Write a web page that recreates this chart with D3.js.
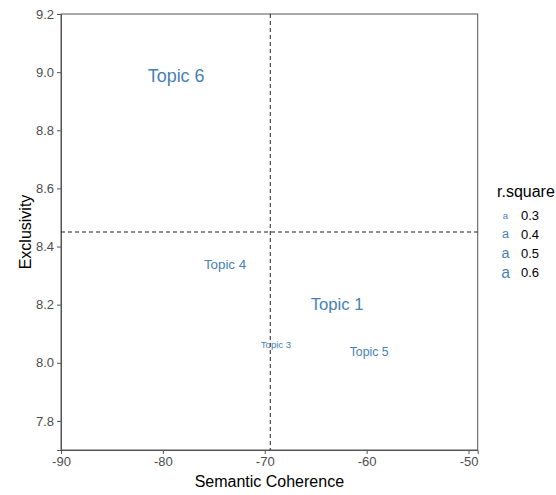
<!DOCTYPE html>
<html>
<head>
<meta charset="utf-8">
<script src="https://cdn.jsdelivr.net/npm/d3@7"></script>
<style>
  body { margin: 0; background: #fff; }
  text { font-family: "Liberation Sans", Arial, sans-serif; }
</style>
</head>
<body>
<script>
// Topic values
const topics = ["Topic 1", "Topic 3", "Topic 4", "Topic 5", "Topic 6"];
const semcoh = [-62.9, -68.9, -73.9, -59.75, -78.7];
const exclus = [8.202, 8.064, 8.339, 8.036, 8.987];
const rsquare = [0.557, 0.29, 0.365, 0.329, 0.66];

const xTicks = [-90, -80, -70, -60, -50];
const yTicks = [7.8, 8.0, 8.2, 8.4, 8.6, 8.8, 9.0, 9.2];
const legendBreaks = [0.3, 0.4, 0.5, 0.6];
const meanX = -69.46;
const meanY = 8.45;

const w = 556, h = 495;
const panel = { left: 61, right: 477.7, top: 14, bottom: 450 };
const textColor = "steelblue";

const svg = d3.select("body").append("svg")
  .attr("width", w)
  .attr("height", h);

const x = d3.scaleLinear()
  .domain([-90, -49.1])
  .range([panel.left, panel.right]);

const y = d3.scaleLinear()
  .domain([7.7, 9.2])
  .range([panel.bottom, panel.top]);

// size works like ggplot's area scale
const norm = d3.scaleLinear().domain(d3.extent(rsquare)).range([0, 1]);
const sizeRange = d3.scaleLinear().domain([0, 1]).range([9.6, 17.9]);
const fontSize = v => sizeRange(Math.sqrt(Math.max(0, norm(v))));

// panel border
svg.append("rect")
  .attr("x", panel.left)
  .attr("y", panel.top)
  .attr("width", panel.right - panel.left)
  .attr("height", panel.bottom - panel.top)
  .attr("fill", "none")
  .attr("stroke", "#555")
  .attr("stroke-width", 1);

// axes
const xAxis = d3.axisBottom(x).tickValues(xTicks).tickSize(4).tickPadding(3).tickFormat(d => String(d));
const yAxis = d3.axisLeft(y).tickValues(yTicks).tickSize(4).tickPadding(3).tickFormat(d => d.toFixed(1));

const gx = svg.append("g")
  .attr("transform", `translate(0,${panel.bottom})`)
  .call(xAxis);
const gy = svg.append("g")
  .attr("transform", `translate(${panel.left},0)`)
  .call(yAxis);

[gx, gy].forEach(g => {
  g.select(".domain").attr("stroke", "#555");
  g.selectAll(".tick line").attr("stroke", "#555");
  g.selectAll(".tick text")
    .attr("fill", "#4d4d4d")
    .style("font-size", "13px")
    .style("font-family", "Liberation Sans, Arial, sans-serif");
});

// reference lines
svg.append("line")
  .attr("x1", panel.left).attr("x2", panel.right)
  .attr("y1", y(meanY)).attr("y2", y(meanY))
  .attr("stroke", "#222")
  .attr("stroke-dasharray", "4,3");

svg.append("line")
  .attr("x1", x(meanX)).attr("x2", x(meanX))
  .attr("y1", panel.top).attr("y2", panel.bottom)
  .attr("stroke", "#222")
  .attr("stroke-dasharray", "4,3");

// topic labels
svg.selectAll(".topic")
  .data(topics)
  .enter()
  .append("text")
  .attr("class", "topic")
  .attr("x", (d, i) => x(semcoh[i]))
  .attr("y", (d, i) => y(exclus[i]))
  .attr("text-anchor", "middle")
  .attr("dominant-baseline", "central")
  .attr("fill", textColor)
  .style("font-size", (d, i) => fontSize(rsquare[i]) + "px")
  .text(d => d);

// axis titles
svg.append("text")
  .attr("x", (panel.left + panel.right) / 2)
  .attr("y", 487)
  .attr("text-anchor", "middle")
  .style("font-size", "16px")
  .attr("fill", "#000")
  .text("Semantic Coherence");

svg.append("text")
  .attr("transform", `translate(31,${(panel.top + panel.bottom) / 2}) rotate(-90)`)
  .attr("text-anchor", "middle")
  .style("font-size", "16px")
  .attr("fill", "#000")
  .text("Exclusivity");

// legend
const legend = svg.append("g").attr("transform", "translate(497,0)");
legend.append("text")
  .attr("x", 0)
  .attr("y", 197)
  .style("font-size", "16px")
  .attr("fill", "#000")
  .text("r.square");

const rows = legend.selectAll(".row")
  .data(legendBreaks)
  .enter()
  .append("g")
  .attr("transform", (d, i) => `translate(0,${215 + i * 19.2})`);

rows.append("text")
  .attr("x", 8.5)
  .attr("y", 0)
  .attr("text-anchor", "middle")
  .attr("dominant-baseline", "central")
  .attr("fill", textColor)
  .style("font-size", d => (fontSize(d) - 1.5) + "px")
  .text("a");

rows.append("text")
  .attr("x", 24)
  .attr("y", 0)
  .attr("dominant-baseline", "central")
  .style("font-size", "13px")
  .attr("fill", "#000")
  .text(d => d.toFixed(1));
</script>
</body>
</html>
